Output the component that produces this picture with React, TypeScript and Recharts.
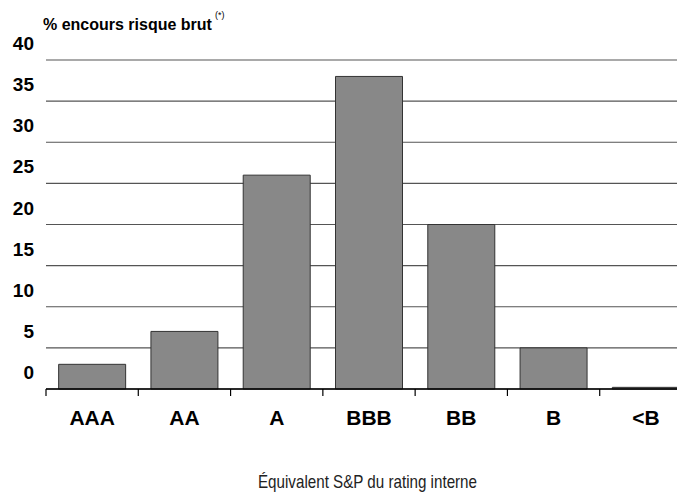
import { BarChart, Bar, XAxis, YAxis, CartesianGrid } from 'recharts'

const ratings = ['AAA', 'AA', 'A', 'BBB', 'BB', 'B', '<B']
const encours = [3, 7, 26, 38, 20, 5, 0.2]
const yTicks = [0, 5, 10, 15, 20, 25, 30, 35, 40]

const data = ratings.map((r, i) => ({ name: r, value: encours[i] }))

const FONT = '"Liberation Sans", Arial, Helvetica, sans-serif'
const CHART_W = 700
const CHART_H = 495
const Y_AXIS_W = 38
const PLOT_W = CHART_W - Y_AXIS_W - 16
const BAND = PLOT_W / ratings.length

function YTick({ x, y, payload }: any) {
  return (
    <text x={x - 4} y={y - 10} textAnchor="end" fontFamily={FONT} fontWeight="bold" fontSize={19} fill="#000">
      {payload.value}
    </text>
  )
}

function XTick({ x, y, payload }: any) {
  return (
    <g>
      <line x1={x - BAND / 2} x2={x - BAND / 2} y1={y - 8} y2={y - 1} stroke="#000" strokeWidth={1.2} />
      <text x={x} y={y + 28} textAnchor="middle" fontFamily={FONT} fontWeight="bold" fontSize={21} fill="#000">
        {payload.value}
      </text>
    </g>
  )
}

export default function App() {
  return (
    <div style={{ width: 677, height: CHART_H, overflow: 'hidden', position: 'relative', fontFamily: FONT }}>
      <BarChart
        width={CHART_W}
        height={CHART_H}
        data={data}
        margin={{ top: 52, right: 16, bottom: 84, left: 0 }}
        barCategoryGap="13.7%"
      >
        <CartesianGrid vertical={false} stroke="#555" strokeWidth={1.2} />
        <XAxis
          dataKey="name"
          tick={<XTick />}
          tickLine={false}
          axisLine={{ stroke: '#000', strokeWidth: 1.5 }}
          interval={0}
        />
        <YAxis
          width={Y_AXIS_W}
          domain={[0, 40]}
          ticks={yTicks}
          tick={<YTick />}
          axisLine={false}
          tickLine={false}
        />
        <Bar dataKey="value" fill="#888888" stroke="#333" strokeWidth={1} isAnimationActive={false} />
        <text x={35} y={22} fontFamily={FONT} fontWeight="bold" fontSize={16} fill="#000">
          % encours risque brut
        </text>
        <text x={207} y={10} fontFamily={FONT} fontSize={9} fill="#000">
          (*)
        </text>
        <text
          x={250}
          y={480}
          fontFamily={FONT}
          fontSize={19}
          fill="#222"
          textLength={219}
          lengthAdjust="spacingAndGlyphs"
        >
          Équivalent S&amp;P du rating interne
        </text>
      </BarChart>
    </div>
  )
}
